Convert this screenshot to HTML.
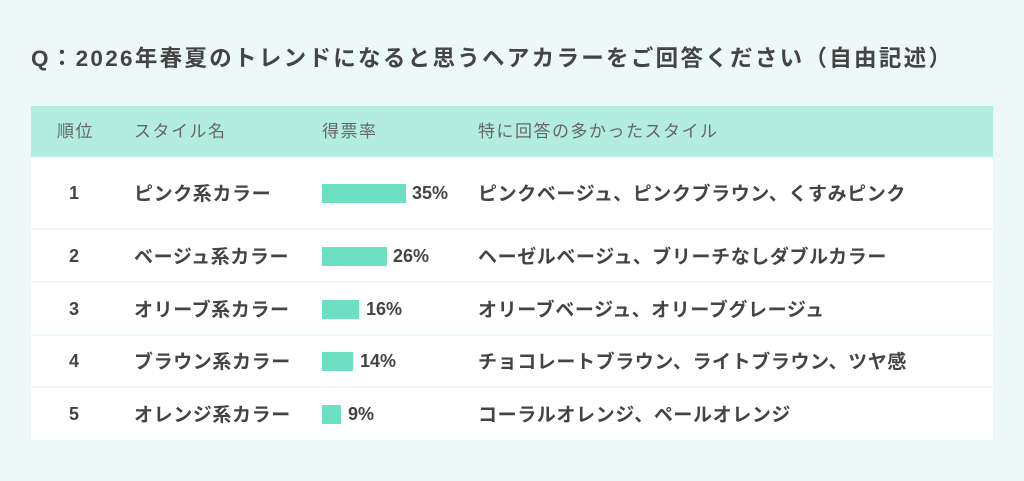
<!DOCTYPE html>
<html><head><meta charset="utf-8"><style>
body{margin:0;width:1024px;height:481px;background:#edf8f8;font-family:"Liberation Sans","Noto Sans CJK JP",sans-serif;position:relative;overflow:hidden}
.t{position:absolute;left:31px;top:45px;font-size:22.5px;letter-spacing:2.3px;font-weight:bold;color:#444;white-space:nowrap;line-height:28px}
.hd{position:absolute;left:31px;top:106px;width:962px;height:51px;background:#b3ede0;color:#666;font-size:17px;letter-spacing:1.5px}
.r{position:absolute;left:31px;width:962px;background:#fff;color:#444;font-size:19px;font-weight:bold}
.c{position:absolute;top:50%;height:26px;line-height:26px;margin-top:-13px;white-space:nowrap;display:block}
.r .j{letter-spacing:0.6px;margin-top:-11px}
.n{font-size:18px}
.bar{position:absolute;left:291px;top:50%;height:19px;margin-top:-9px;background:#6ddfc3}
</style></head><body>
<div class="t">Q：2026年春夏のトレンドになると思うヘアカラーをご回答ください（自由記述）</div>
<div class="hd"><span class="c" style="left:26px">順位</span><span class="c" style="left:103px">スタイル名</span><span class="c" style="left:291px">得票率</span><span class="c" style="left:447px">特に回答の多かったスタイル</span></div>

<div class="r" style="top:157px;height:71px"><span class="c n" style="left:38px">1</span><span class="c j" style="left:103px">ピンク系カラー</span><div class="bar" style="width:84px"></div><span class="c n" style="left:381px">35%</span><span class="c j" style="left:447px">ピンクベージュ、ピンクブラウン、くすみピンク</span></div>
<div class="r" style="top:230px;height:51px"><span class="c n" style="left:38px">2</span><span class="c j" style="left:103px">ベージュ系カラー</span><div class="bar" style="width:65px"></div><span class="c n" style="left:362px">26%</span><span class="c j" style="left:447px">ヘーゼルベージュ、ブリーチなしダブルカラー</span></div>
<div class="r" style="top:283px;height:51px"><span class="c n" style="left:38px">3</span><span class="c j" style="left:103px">オリーブ系カラー</span><div class="bar" style="width:37px"></div><span class="c n" style="left:335px">16%</span><span class="c j" style="left:447px">オリーブベージュ、オリーブグレージュ</span></div>
<div class="r" style="top:336px;height:50px"><span class="c n" style="left:38px">4</span><span class="c j" style="left:103px">ブラウン系カラー</span><div class="bar" style="width:31px"></div><span class="c n" style="left:329px">14%</span><span class="c j" style="left:447px">チョコレートブラウン、ライトブラウン、ツヤ感</span></div>
<div class="r" style="top:388px;height:52px"><span class="c n" style="left:38px">5</span><span class="c j" style="left:103px">オレンジ系カラー</span><div class="bar" style="width:19px"></div><span class="c n" style="left:317px">9%</span><span class="c j" style="left:447px">コーラルオレンジ、ペールオレンジ</span></div>
</body></html>
